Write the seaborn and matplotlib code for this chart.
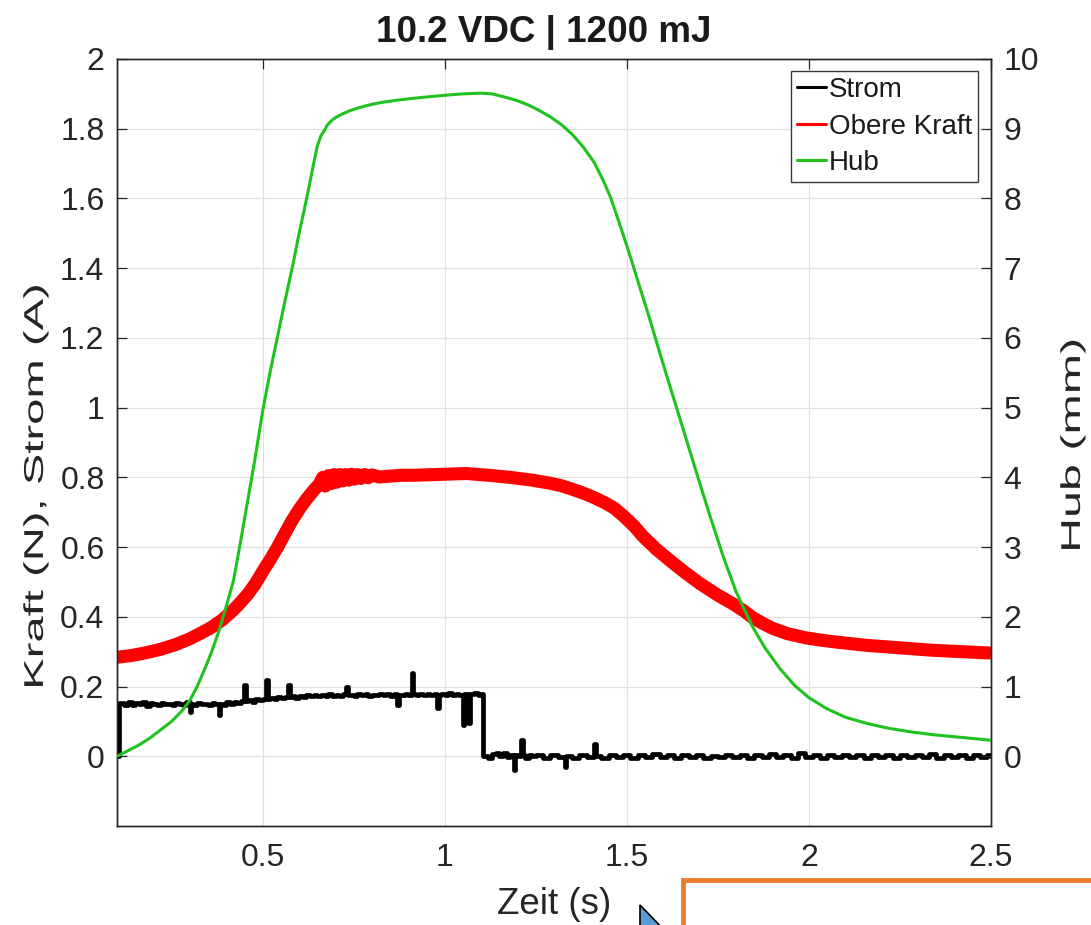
import matplotlib
matplotlib.use("Agg")
import matplotlib.pyplot as plt
import seaborn as sns
from matplotlib import patheffects
from matplotlib.transforms import Affine2D
from matplotlib.lines import Line2D
from matplotlib.patches import Rectangle, Polygon

# ---------------- data ----------------
title = "10.2 VDC | 1200 mJ"
x_label = "Zeit (s)"
y_left_label = "Kraft (N), Strom (A)"
y_right_label = "Hub (mm)"
series_names = ["Strom", "Obere Kraft", "Hub"]

x_ticks = [0.5, 1.0, 1.5, 2.0, 2.5]
x_tick_labels = ["0.5", "1", "1.5", "2", "2.5"]
y_left_ticks = [0, 0.2, 0.4, 0.6, 0.8, 1.0, 1.2, 1.4, 1.6, 1.8, 2.0]
y_left_tick_labels = ["0", "0.2", "0.4", "0.6", "0.8", "1", "1.2", "1.4", "1.6", "1.8", "2"]
y_right_ticks = [0, 1, 2, 3, 4, 5, 6, 7, 8, 9, 10]
y_right_tick_labels = [str(v) for v in y_right_ticks]

# Hub (mm) vs time (s)
hub_t = [0.10, 0.13, 0.16, 0.19, 0.22, 0.25, 0.28, 0.30, 0.32, 0.34, 0.36, 0.38, 0.40,
         0.42, 0.44, 0.46, 0.48, 0.50, 0.52, 0.54, 0.56, 0.585, 0.60, 0.62, 0.64, 0.65,
         0.66, 0.67, 0.677, 0.69, 0.70, 0.714, 0.74, 0.77, 0.80, 0.83, 0.87, 0.92, 0.96,
         1.00, 1.05, 1.10, 1.13, 1.16, 1.195, 1.23, 1.26, 1.29, 1.32, 1.35, 1.38, 1.41,
         1.435, 1.455, 1.47, 1.49, 1.51, 1.53, 1.56, 1.60, 1.65, 1.70, 1.73, 1.765, 1.80,
         1.845, 1.88, 1.92, 1.96, 2.00, 2.05, 2.10, 2.16, 2.22, 2.28, 2.34, 2.42, 2.50]
hub_mm = [0.00, 0.08, 0.16, 0.26, 0.38, 0.50, 0.66, 0.80, 1.00, 1.24, 1.50, 1.80, 2.15,
          2.52, 3.10, 3.70, 4.30, 4.95, 5.50, 6.00, 6.50, 7.10, 7.50, 7.98, 8.50, 8.75,
          8.90, 8.98, 9.05, 9.12, 9.16, 9.20, 9.26, 9.31, 9.35, 9.38, 9.41, 9.44, 9.46,
          9.48, 9.50, 9.51, 9.50, 9.46, 9.41, 9.34, 9.26, 9.17, 9.06, 8.92, 8.74, 8.52,
          8.26, 8.02, 7.79, 7.48, 7.16, 6.82, 6.32, 5.62, 4.77, 3.92, 3.42, 2.86, 2.36,
          1.86, 1.55, 1.26, 1.02, 0.84, 0.68, 0.56, 0.47, 0.40, 0.35, 0.31, 0.27, 0.23]

# Obere Kraft (N) vs time (s)
kraft_t = [0.10, 0.14, 0.18, 0.22, 0.26, 0.30, 0.33, 0.36, 0.39, 0.42, 0.44, 0.46, 0.48,
           0.50, 0.52, 0.54, 0.56, 0.58, 0.60, 0.62, 0.64, 0.655, 0.665, 0.672, 0.68, 0.688,
           0.696, 0.704, 0.712, 0.72, 0.728, 0.736, 0.744, 0.752, 0.76, 0.77, 0.78, 0.79,
           0.80, 0.82, 0.88, 0.915, 1.00, 1.06, 1.12, 1.18, 1.24, 1.29, 1.32, 1.35, 1.38,
           1.41, 1.44, 1.465, 1.49, 1.52, 1.545, 1.58, 1.62, 1.66, 1.70, 1.75, 1.79, 1.82,
           1.845, 1.87, 1.90, 1.94, 1.99, 2.04, 2.08, 2.16, 2.25, 2.34, 2.42, 2.50]
kraft_n = [0.284, 0.289, 0.297, 0.307, 0.320, 0.337, 0.353, 0.370, 0.392, 0.420, 0.442, 0.466, 0.495,
           0.530, 0.563, 0.598, 0.637, 0.675, 0.708, 0.737, 0.763, 0.780, 0.800, 0.775, 0.805, 0.782,
           0.808, 0.786, 0.808, 0.790, 0.808, 0.792, 0.809, 0.795, 0.808, 0.797, 0.808, 0.799,
           0.807, 0.801, 0.806, 0.806, 0.809, 0.811, 0.806, 0.800, 0.792, 0.783, 0.776, 0.766, 0.755,
           0.742, 0.727, 0.712, 0.690, 0.660, 0.630, 0.595, 0.560, 0.527, 0.496, 0.462, 0.438, 0.418,
           0.398, 0.383, 0.367, 0.352, 0.340, 0.332, 0.327, 0.318, 0.311, 0.304, 0.300, 0.296]

# Strom (A) vs time (s)
strom_t = [0.100, 0.106, 0.12, 0.13, 0.14, 0.15, 0.16, 0.17, 0.18, 0.19, 0.20, 0.21, 0.22,
           0.23, 0.24, 0.25, 0.26, 0.27, 0.28, 0.29, 0.300, 0.304, 0.31, 0.32, 0.33, 0.34,
           0.35, 0.36, 0.37, 0.380, 0.384, 0.39, 0.40, 0.41, 0.42, 0.43, 0.44, 0.450, 0.454,
           0.46, 0.47, 0.48, 0.49, 0.50, 0.510, 0.514, 0.52, 0.53, 0.54, 0.55, 0.56, 0.570,
           0.574, 0.58, 0.59, 0.60, 0.61, 0.62, 0.63, 0.64, 0.65, 0.66, 0.67, 0.68, 0.69,
           0.70, 0.71, 0.72, 0.730, 0.734, 0.74, 0.75, 0.76, 0.77, 0.78, 0.79, 0.80, 0.81,
           0.82, 0.83, 0.84, 0.85, 0.86, 0.870, 0.874, 0.88, 0.89, 0.900, 0.910, 0.914, 0.92,
           0.93, 0.94, 0.95, 0.96, 0.97, 0.980, 0.984, 0.99, 1.00, 1.01, 1.02, 1.03, 1.04,
           1.050, 1.054, 1.060, 1.065, 1.069, 1.08, 1.09, 1.100, 1.106, 1.12, 1.13, 1.14,
           1.15, 1.16, 1.17, 1.180, 1.190, 1.194, 1.20, 1.210, 1.214, 1.22, 1.23, 1.24,
           1.25, 1.27, 1.29, 1.31, 1.330, 1.334, 1.35, 1.37, 1.39, 1.410, 1.414, 1.43, 1.45,
           1.47, 1.49, 1.51, 1.53, 1.55, 1.57, 1.59, 1.61, 1.63, 1.65, 1.67, 1.69, 1.71,
           1.73, 1.75, 1.77, 1.79, 1.81, 1.83, 1.85, 1.87, 1.89, 1.91, 1.93, 1.95, 1.97,
           1.99, 2.01, 2.03, 2.05, 2.07, 2.09, 2.11, 2.13, 2.15, 2.17, 2.19, 2.21, 2.23,
           2.25, 2.27, 2.29, 2.31, 2.33, 2.35, 2.37, 2.39, 2.41, 2.43, 2.45, 2.47, 2.49, 2.50]
strom_a = [0.000, 0.152, 0.148, 0.156, 0.146, 0.153, 0.149, 0.155, 0.145, 0.152, 0.150, 0.147, 0.154,
           0.149, 0.151, 0.146, 0.153, 0.150, 0.148, 0.155, 0.126, 0.150, 0.147, 0.153, 0.149, 0.151,
           0.146, 0.154, 0.150, 0.117, 0.151, 0.148, 0.155, 0.150, 0.157, 0.153, 0.158, 0.203, 0.158,
           0.161, 0.156, 0.163, 0.160, 0.165, 0.220, 0.163, 0.167, 0.164, 0.169, 0.166, 0.171, 0.205,
           0.169, 0.172, 0.168, 0.174, 0.170, 0.175, 0.172, 0.176, 0.173, 0.177, 0.174, 0.178, 0.172,
           0.176, 0.174, 0.178, 0.200, 0.175, 0.177, 0.173, 0.178, 0.175, 0.179, 0.174, 0.177, 0.175,
           0.180, 0.176, 0.178, 0.174, 0.179, 0.147, 0.177, 0.175, 0.179, 0.176, 0.238, 0.178, 0.176,
           0.180, 0.175, 0.178, 0.176, 0.180, 0.138, 0.177, 0.179, 0.175, 0.181, 0.176, 0.179, 0.177,
           0.090, 0.178, 0.180, 0.095, 0.178, 0.181, 0.177, 0.180, 0.002, -0.004, 0.006, 0.010,
           0.000, 0.008, -0.003, 0.005, -0.040, 0.004, 0.000, 0.046, 0.003, -0.005, 0.004, 0.000,
           0.003, -0.004, 0.005, -0.002, -0.030, 0.002, -0.005, 0.004, -0.003, 0.035, 0.001, -0.004, 0.005,
           -0.002, 0.004, -0.005, 0.003, -0.003, 0.006, -0.002, 0.004, -0.006, 0.003, -0.002, 0.005, -0.004,
           0.002, -0.003, 0.005, -0.002, 0.004, -0.005, 0.003, -0.002, 0.006, -0.003, 0.004, -0.004, 0.010,
           -0.002, 0.004, -0.005, 0.003, -0.002, 0.005, -0.003, 0.004, -0.004, 0.003, -0.002, 0.005, -0.005,
           0.003, -0.002, 0.004, -0.003, 0.006, -0.004, 0.003, -0.002, 0.005, -0.004, 0.003, -0.003, 0.004, 0.002]

# ---------------- styling ----------------
W, H = 1091, 925
C_STROM = "#000000"
C_KRAFT = "#FF0000"
C_HUB = "#1FC21F"
FONT = ["Liberation Sans", "DejaVu Sans"]

sns.set_theme(style="white")
plt.rcParams["font.family"] = FONT
plt.rcParams["axes.unicode_minus"] = False


class Stretch(patheffects.AbstractPathEffect):
    """Stretch rendered text along its baseline (MATLAB-screenshot look)."""

    def __init__(self, sx=1.0, sy=1.0):
        super().__init__()
        self.sx, self.sy = sx, sy

    def draw_path(self, renderer, gc, tpath, affine, rgbFace=None):
        ext = tpath.get_extents()
        cx, cy = (ext.x0 + ext.x1) / 2, (ext.y0 + ext.y1) / 2
        pre = Affine2D().translate(-cx, -cy).scale(self.sx, self.sy).translate(cx, cy)
        renderer.draw_path(gc, tpath, pre + affine, rgbFace)


fig = plt.figure(figsize=(W / 100, H / 100), dpi=100)
fig.patch.set_facecolor("white")
L, R, T, B = 117, 991, 59, 826
ax = fig.add_axes([L / W, 1 - B / H, (R - L) / W, (B - T) / H])
ax2 = ax.twinx()

sns.lineplot(x=kraft_t, y=kraft_n, ax=ax, color=C_KRAFT, lw=9.4, estimator=None,
             sort=False, solid_joinstyle="round", solid_capstyle="butt", zorder=2)
sns.lineplot(x=strom_t, y=strom_a, ax=ax, color=C_STROM, lw=3.4, estimator=None,
             sort=False, drawstyle="steps-post", zorder=3)
sns.lineplot(x=hub_t, y=hub_mm, ax=ax2, color=C_HUB, lw=2.2, estimator=None,
             sort=False, zorder=3)

ax.set_xlim(0.1, 2.5)
ax.set_ylim(-0.2, 2.0)
ax2.set_ylim(-1, 10)

ax.set_xticks(x_ticks)
ax.set_xticklabels(x_tick_labels)
ax.set_yticks(y_left_ticks)
ax.set_yticklabels(y_left_tick_labels)
ax2.set_yticks(y_right_ticks)
ax2.set_yticklabels(y_right_tick_labels)

ax.grid(True, color="#e0e0e0", lw=0.9)
ax2.grid(False)
ax.set_axisbelow(True)

ax.tick_params(axis="both", direction="in", length=7, width=0.9, colors="#262626",
               labelsize=23, labelcolor="#262626", top=True, right=False)
ax.tick_params(axis="x", pad=12)
ax.tick_params(axis="y", pad=9)
ax2.tick_params(axis="y", direction="in", length=7, width=0.9, colors="#262626",
                labelsize=23, labelcolor="#262626", pad=9)
for a in (ax, ax2):
    for s in a.spines.values():
        s.set_color("#262626")
        s.set_linewidth(1.0)
        s.set_visible(True)

ax.set_xlabel(x_label, fontsize=26.5, color="#262626")
ax.xaxis.set_label_coords(0.5, -(905 - B) / (B - T))
ax.xaxis.label.set_va("center")

ax.set_ylabel(y_left_label, fontsize=17, color="#262626")
ax.yaxis.set_label_coords((36 - L) / (R - L), (B - 486) / (B - T))
ax.yaxis.label.set_va("center")
ax.yaxis.label.set_path_effects([Stretch(2.0, 1.15)])

ax2.set_ylabel(y_right_label, fontsize=17, color="#262626", rotation=90)
ax2.yaxis.set_label_coords((1073 - L) / (R - L), (B - 445) / (B - T))
ax2.yaxis.label.set_va("center")
ax2.yaxis.label.set_path_effects([Stretch(2.05, 1.15)])

fig.text(544 / W, 1 - 32 / H, title, ha="center", va="center", fontsize=26.5,
         fontweight="bold", color="#1a1a1a")

for a in (ax, ax2):
    lg = a.get_legend()
    if lg is not None:
        lg.remove()

handles = [Line2D([], [], color=C_STROM, lw=2.2),
           Line2D([], [], color=C_KRAFT, lw=2.2),
           Line2D([], [], color=C_HUB, lw=2.2)]
leg = ax2.legend(handles, series_names, loc="upper right",
                 bbox_to_anchor=((978 - L) / (R - L), (B - 71) / (B - T)),
                 borderaxespad=0, fontsize=20, frameon=True, fancybox=False,
                 framealpha=1, edgecolor="#3a3a3a", handlelength=1.05,
                 handletextpad=0.1, labelspacing=0.38, borderpad=0.22)
leg.get_frame().set_linewidth(1.0)
for t in leg.get_texts():
    t.set_color("#1a1a1a")

# screenshot overlay artefacts at the bottom (orange box and mouse cursor)
fig.patches.append(Rectangle((683 / W, -0.05), 0.5, (925 - 880) / H + 0.05,
                             transform=fig.transFigure, fc="white", ec="#ED7D31",
                             lw=3.5, zorder=5))
fig.patches.append(Polygon([(640 / W, 1 - 905 / H), (640 / W, -0.01), (668 / W, -0.01)],
                           closed=True, transform=fig.transFigure, fc="#5B9BD5",
                           ec="black", lw=1.2, zorder=6))

fig.savefig("out.png", dpi=100, facecolor="white")
